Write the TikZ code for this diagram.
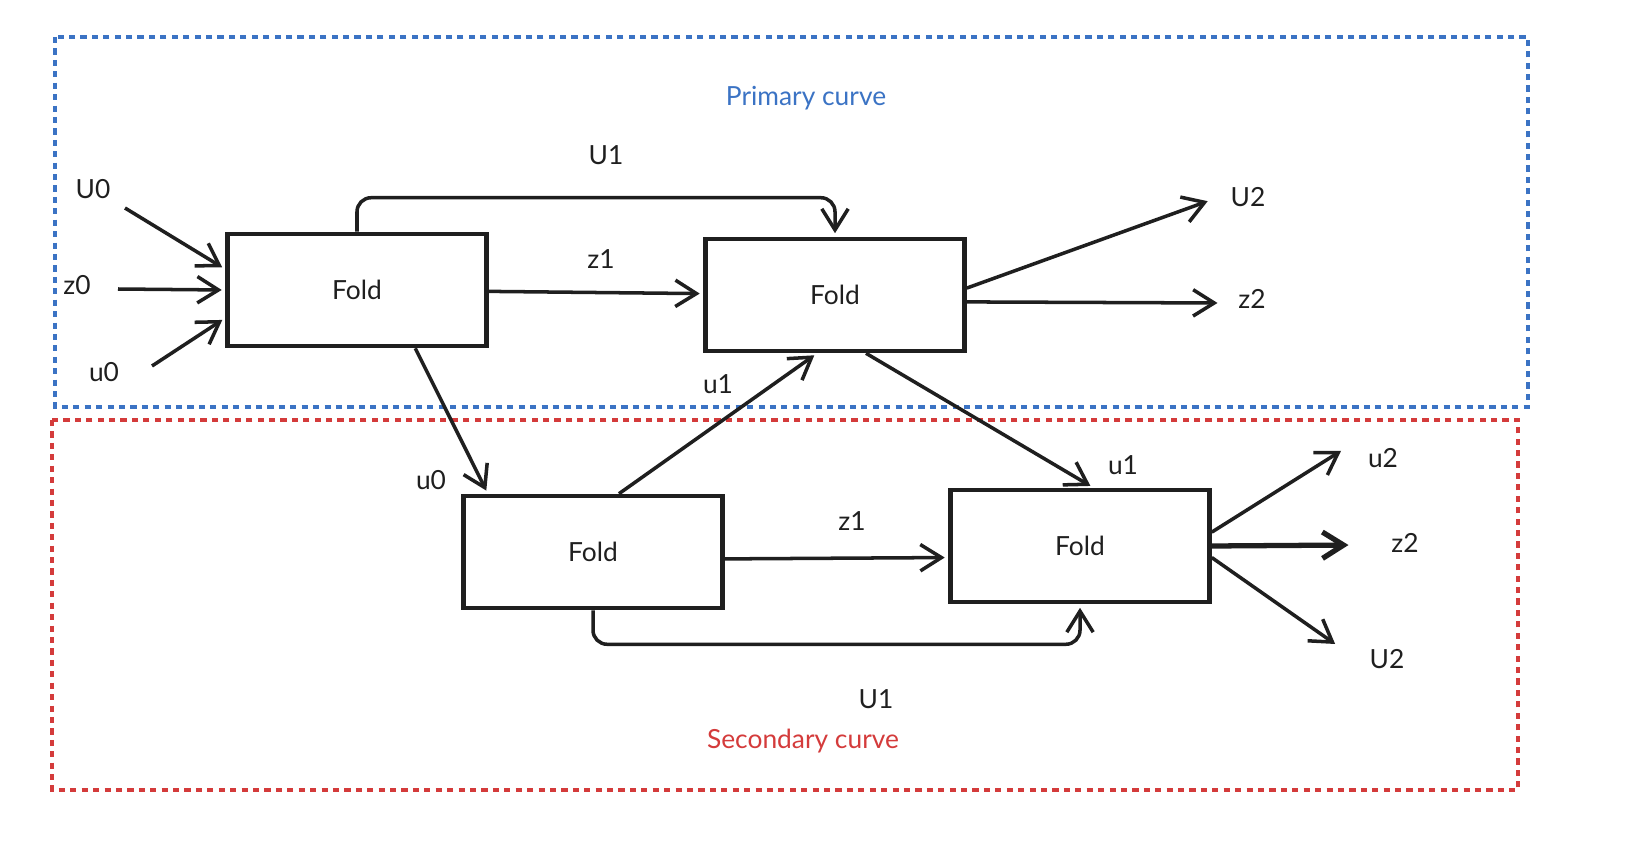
\documentclass[tikz,border=0pt]{standalone}
\usepackage{fontspec}
\setmainfont{Lato}
\usetikzlibrary{arrows.meta}
\usetikzlibrary{shapes}

\definecolor{primaryblue}{HTML}{3B73C4}
\definecolor{secondaryred}{HTML}{D43B3B}

\tikzstyle{fold}=[
   rectangle,
   line width=2.6pt,
   draw=black!88,
   minimum width=5.18cm,
   minimum height=2.24cm,
   inner sep=0pt
]
\tikzstyle{curve}=[
   line width=1.9pt,
   dash pattern=on 3.5pt off 3pt
]
\tikzstyle{wire}=[
   line width=2pt,
   draw=black!88,
   shorten >=2pt
]

\begin{document}
\begin{tikzpicture}[
         x=0.02cm, y=-0.02cm,
         >={Straight Barb[length=12pt,width=15pt]},
         every node/.style={font=\fontsize{15}{18}\selectfont, text=black!88}
      ]
      \useasboundingbox (0,0) rectangle (1632,858);

      % the two curves
      \draw[curve, primaryblue] (55,37) rectangle (1528,407);
      \draw[curve, secondaryred] (52,420) rectangle (1518,790);
      \node (primary) [text=primaryblue] at (806,98) {Primary curve};
      \node (secondary) [text=secondaryred] at (803,741) {Secondary curve};

      \node (0) [fold] at (357,290) {Fold};
      \node (1) [fold] at (835,295) {Fold};
      \node (2) [fold] at (593,552) {Fold};
      \node (3) [fold] at (1080,546) {Fold};

      \coordinate (U0in) at (125,208);
      \coordinate (z0in) at (118,289);
      \coordinate (u0in) at (152,366);
      \coordinate (U2out) at (1211,200);
      \coordinate (z2out) at (1221,303);
      \coordinate (u2low) at (1344,449);
      \coordinate (z2low) at (1352,545);
      \coordinate (U2low) at (1338,646);

      \node (U0) at (93,189) {U0};
      \node (z0) at (77,285) {z0};
      \node (u0) at (104,372) {u0};
      \node (U1top) at (606,155) {U1};
      \node (z1top) at (601,259) {z1};
      \node (U2top) at (1248,197) {U2};
      \node (z2top) at (1252,299) {z2};
      \node (u0mid) at (431,480) {u0};
      \node (u1left) at (718,384) {u1};
      \node (u1right) at (1123,465) {u1};
      \node (z1low) at (852,521) {z1};
      \node (U1low) at (876,699) {U1};
      \node (u2) at (1383,458) {u2};
      \node (z2) at (1405,543) {z2};
      \node (U2) at (1387,659) {U2};

      \path[->]

      (U0in) edge[wire] (0.171)
      (z0in) edge[wire] (0.west)
      (u0in) edge[wire] (0.192)

      (0) edge[wire] (1)
      (0.-45) edge[wire] (2.151)

      (1.3) edge[wire] (U2out)
      (1.-3) edge[wire] (z2out)
      (1.-62) edge[wire] (3.77)

      (2.66) edge[wire] (1.-107)
      (2.-3) edge[wire] (3.185)

      (3.6) edge[wire] (u2low)
      (3.east) edge[wire, line width=3pt] (z2low)
      (3.-5) edge[wire] (U2low)
      ;

      \draw[->, wire, rounded corners=8pt] (0.north) -- ++(0,-34) -| (1.north);
      \draw[->, wire, rounded corners=8pt] (2.south) -- ++(0,34) -| (3.south);

   \end{tikzpicture}
\end{document}
